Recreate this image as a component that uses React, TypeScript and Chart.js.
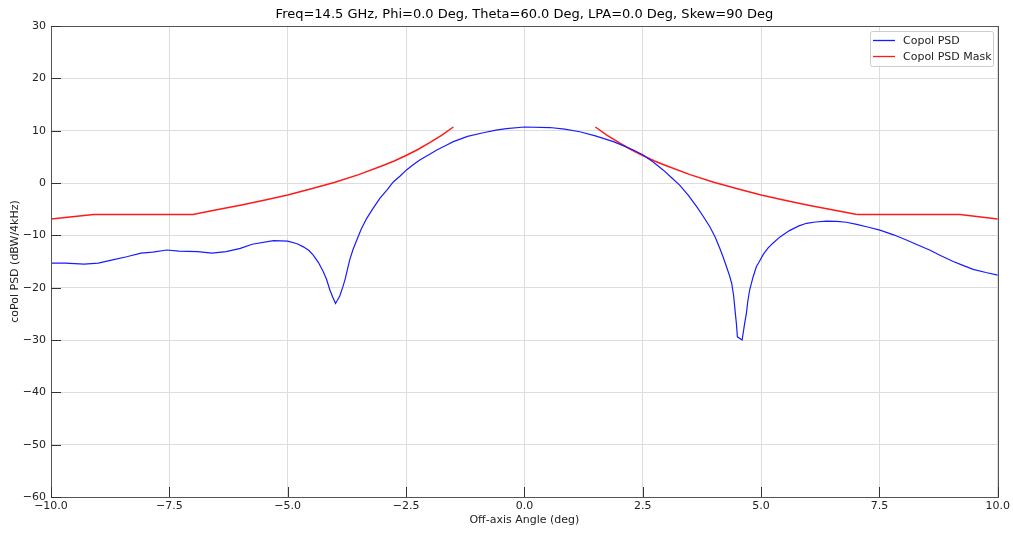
import React, { useEffect, useRef } from 'react';
import { Chart, registerables } from 'chart.js';
Chart.register(...registerables);

const titleText = 'Freq=14.5 GHz, Phi=0.0 Deg, Theta=60.0 Deg, LPA=0.0 Deg, Skew=90 Deg';
const xAxisLabel = 'Off-axis Angle (deg)';
const yAxisLabel = 'coPol PSD (dBW/4kHz)';
const seriesNames = ['Copol PSD', 'Copol PSD Mask'];

const psdAngles = [-10, -9.7, -9.3, -9, -8.7, -8.4, -8.1, -7.85, -7.55, -7.3, -6.9, -6.6, -6.3, -6, -5.75, -5.3, -5, -4.8, -4.67, -4.55, -4.46, -4.35, -4.25, -4.18, -4.11, -4.05, -3.99, -3.95, -3.9, -3.84, -3.79, -3.74, -3.69, -3.62, -3.54, -3.45, -3.33, -3.2, -3.05, -2.9, -2.77, -2.63, -2.49, -2.35, -2.21, -2.0, -1.85, -1.65, -1.5, -1.2, -0.87, -0.6, -0.38, 0, 0.54, 0.85, 1.17, 1.5, 1.88, 2.1, 2.3, 2.51, 2.72, 2.93, 3.1, 3.28, 3.46, 3.64, 3.78, 3.92, 4.03, 4.13, 4.2, 4.27, 4.33, 4.38, 4.42, 4.45, 4.48, 4.5, 4.6, 4.65, 4.69, 4.72, 4.76, 4.83, 4.9, 4.97, 5.05, 5.15, 5.25, 5.4, 5.6, 5.8, 5.96, 6.15, 6.38, 6.6, 6.8, 7.02, 7.25, 7.51, 7.8, 8.07, 8.3, 8.56, 8.8, 9.06, 9.25, 9.48, 9.75, 10];
const psdValues = [-15.3, -15.3, -15.5, -15.3, -14.7, -14.1, -13.4, -13.2, -12.8, -13.0, -13.1, -13.4, -13.1, -12.5, -11.7, -11.0, -11.1, -11.6, -12.2, -12.9, -13.8, -15.2, -16.9, -18.4, -20.4, -21.8, -23.0, -22.4, -21.6, -20.0, -18.5, -16.6, -14.7, -12.7, -10.9, -8.9, -6.75, -4.9, -2.9, -1.3, 0.2, 1.3, 2.5, 3.5, 4.4, 5.5, 6.3, 7.2, 7.9, 8.9, 9.6, 10.1, 10.4, 10.7, 10.6, 10.3, 9.8, 9.0, 7.9, 7.1, 6.3, 5.35, 4.0, 2.5, 1.1, -0.4, -2.3, -4.5, -6.4, -8.4, -10.3, -12.5, -14.2, -16.0, -17.6, -19.2, -21.5, -24.3, -27.0, -29.4, -30.0, -27.0, -24.9, -22.6, -20.4, -18.0, -16.0, -14.9, -13.6, -12.4, -11.5, -10.3, -9.1, -8.2, -7.7, -7.45, -7.3, -7.35, -7.5, -7.9, -8.4, -9.0, -9.9, -10.9, -11.8, -12.8, -13.9, -15.0, -15.7, -16.5, -17.1, -17.6];

const maskAngles = [-10, -9.1, -7.0, -6.5, -6, -5.5, -5, -4.5, -4, -3.5, -3, -2.75, -2.5, -2.25, -2, -1.75, -1.5, 0, 1.5, 1.75, 2, 2.25, 2.5, 2.75, 3, 3.5, 4, 4.5, 5, 5.5, 6, 6.5, 7.0, 7.05, 9.2, 10];
const maskValues = [-6.9, -6.0, -6.0, -5.1, -4.25, -3.3, -2.3, -1.1, 0.15, 1.6, 3.3, 4.2, 5.25, 6.4, 7.7, 9.1, 10.7, null, 10.7, 9.1, 7.7, 6.4, 5.25, 4.2, 3.3, 1.6, 0.15, -1.1, -2.3, -3.3, -4.25, -5.1, -5.95, -6.0, -6.0, -6.9];

const xTicks = [-10, -7.5, -5, -2.5, 0, 2.5, 5, 7.5, 10];
const yTicks = [-60, -50, -40, -30, -20, -10, 0, 10, 20, 30];

const FONT = 'DejaVu Sans';
const colors = ['#1a1aff', '#ff1a1a'];

const framePlugin = {
  id: 'framePlugin',
  afterDraw(chart: any) {
    const { ctx, chartArea: a, scales } = chart;
    ctx.save();
    // title
    ctx.fillStyle = '#000';
    ctx.font = `13px "${FONT}"`;
    ctx.textAlign = 'center';
    ctx.textBaseline = 'middle';
    ctx.fillText(titleText, (a.left + a.right) / 2, 15);
    // frame
    ctx.strokeStyle = '#555';
    ctx.lineWidth = 1;
    ctx.strokeRect(Math.round(a.left) + 0.5, Math.round(a.top) + 0.5, Math.round(a.right - a.left), Math.round(a.bottom - a.top));
    // inside ticks
    ctx.strokeStyle = '#333';
    ctx.beginPath();
    for (const v of xTicks) {
      const px = Math.round(scales.x.getPixelForValue(v)) + 0.5;
      ctx.moveTo(px, a.bottom);
      ctx.lineTo(px, a.bottom - 10);
    }
    for (const v of yTicks) {
      const py = Math.round(scales.y.getPixelForValue(v)) + 0.5;
      ctx.moveTo(a.left, py);
      ctx.lineTo(a.left + 10, py);
    }
    ctx.stroke();
    // legend
    const bx = 870.5, by = 31.5, bw = 123, bh = 35;
    ctx.fillStyle = 'rgba(255,255,255,0.85)';
    ctx.strokeStyle = '#cccccc';
    ctx.beginPath();
    ctx.roundRect(bx, by, bw, bh, 2);
    ctx.fill();
    ctx.stroke();
    ctx.font = `11px "${FONT}"`;
    ctx.textBaseline = 'middle';
    ctx.textAlign = 'left';
    seriesNames.forEach((name, i) => {
      const y = 40 + i * 16;
      ctx.strokeStyle = colors[i];
      ctx.lineWidth = 1.3;
      ctx.beginPath();
      ctx.moveTo(873, y + 0.5);
      ctx.lineTo(895, y + 0.5);
      ctx.stroke();
      ctx.fillStyle = '#222';
      ctx.fillText(name, 903, y + 1);
    });
    ctx.restore();
  },
};

export default function App() {
  const ref = useRef<HTMLCanvasElement>(null);
  useEffect(() => {
    const psd = psdAngles.map((x, i) => ({ x, y: psdValues[i] }));
    const mask = maskAngles.map((x, i) => ({ x, y: maskValues[i] }));
    const chart = new Chart(ref.current!, {
      type: 'line',
      data: {
        datasets: [
          { label: seriesNames[0], data: psd as any, borderColor: colors[0], borderWidth: 1.2, pointRadius: 0, tension: 0, fill: false },
          { label: seriesNames[1], data: mask as any, borderColor: colors[1], borderWidth: 1.5, pointRadius: 0, tension: 0, fill: false, spanGaps: false },
        ],
      },
      options: {
        responsive: false,
        animation: false,
        layout: { padding: { left: 0, right: 15, top: 26, bottom: 0 } },
        plugins: {
          legend: { display: false },
          tooltip: { enabled: false },
          title: { display: false },
        },
        scales: {
          x: {
            type: 'linear',
            min: -10,
            max: 10,
            afterFit: (s: any) => { s.height = 36; },
            afterBuildTicks: (s: any) => { s.ticks = xTicks.map((v) => ({ value: v })); },
            ticks: {
              color: '#222',
              font: { family: FONT, size: 11 },
              padding: 3,
              maxRotation: 0,
              autoSkip: false,
              callback: (v: any) => Number(v).toFixed(1).replace('-', '\u2212'),
            },
            grid: { color: '#dddddd', drawTicks: false, lineWidth: 1 },
            border: { display: false },
            title: { display: true, text: xAxisLabel, color: '#222', font: { family: FONT, size: 11 }, padding: { top: 0, bottom: 6.4 } },
          },
          y: {
            type: 'linear',
            min: -60,
            max: 30,
            afterFit: (s: any) => { s.width = 51; },
            afterBuildTicks: (s: any) => { s.ticks = yTicks.map((v) => ({ value: v })); },
            ticks: {
              color: '#222',
              font: { family: FONT, size: 11 },
              padding: 5,
              autoSkip: false,
              callback: (v: any) => String(v).replace('-', '\u2212'),
            },
            grid: { color: '#dddddd', drawTicks: false, lineWidth: 1 },
            border: { display: false },
            title: { display: true, text: yAxisLabel, color: '#222', font: { family: FONT, size: 11 }, padding: { top: 8.4, bottom: 0 } },
          },
        },
      },
      plugins: [framePlugin],
    });
    return () => chart.destroy();
  }, []);
  return (
    <div style={{ position: 'fixed', left: 0, top: 0, width: 1013, height: 533 }}>
      <canvas ref={ref} width={1013} height={533} style={{ display: 'block' }} />
    </div>
  );
}
